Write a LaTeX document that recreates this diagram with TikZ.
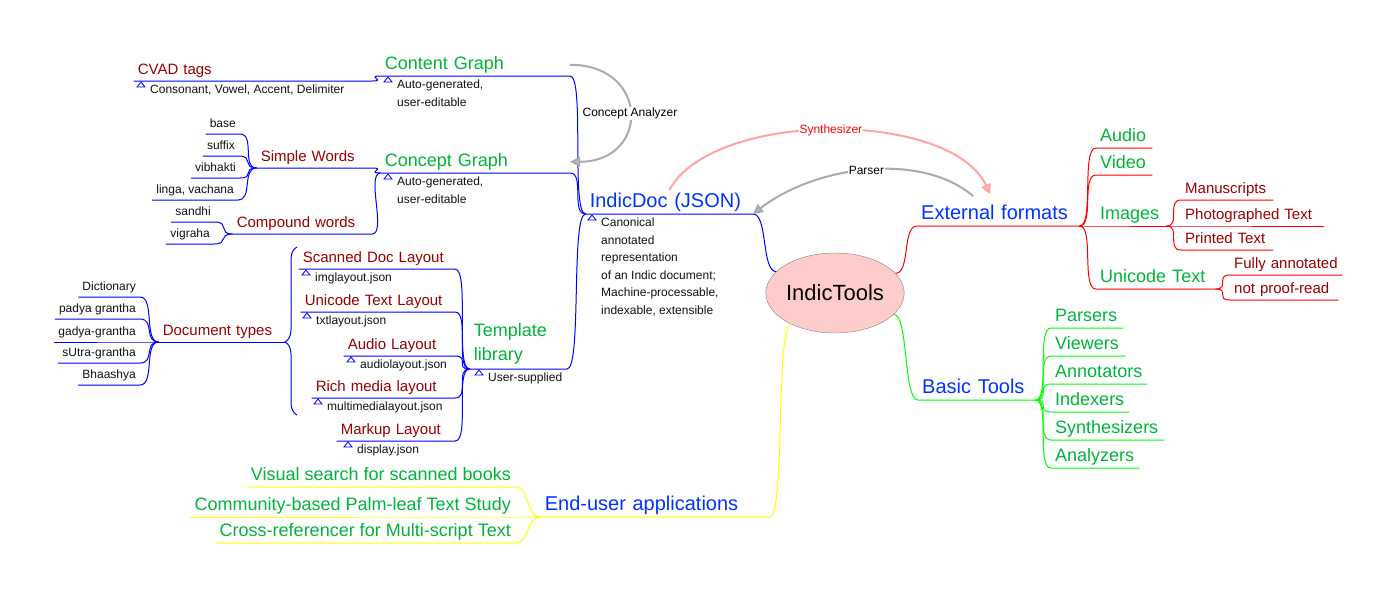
\documentclass[tikz,border=0pt]{standalone}
\usepackage{fontspec}
\setmainfont{Liberation Sans}
\usepackage{tikz}
\usetikzlibrary{arrows.meta,calc,shapes.geometric,decorations.pathreplacing}
\definecolor{mapblue}{HTML}{0033FF}
\definecolor{mapgreen}{HTML}{00B439}
\definecolor{mapred}{HTML}{990000}
\definecolor{mapdark}{HTML}{111111}
\definecolor{linkblue}{HTML}{0000FF}
\definecolor{linkred}{HTML}{FF0000}
\definecolor{linkgreen}{HTML}{00FF00}
\definecolor{linkyellow}{HTML}{FFFF00}
\definecolor{rootfill}{HTML}{FFCCCC}
\definecolor{arcgray}{HTML}{ABABAB}
\definecolor{arcpink}{HTML}{FFA3A3}
\tikzset{
    mindnode/.style={inner xsep=4pt, inner ysep=3pt, text depth=0.3em},
    mindroot/.style={ellipse, draw=gray, fill=rootfill, minimum width=130pt, minimum height=80pt, inner sep=0pt, font=\fontsize{22}{26}\selectfont},
    mindone/.style={mindnode, text=mapblue, font=\fontsize{20}{24}\selectfont},
    mindtwo/.style={mindnode, text=mapgreen, font=\fontsize{18}{24}\selectfont},
    mindthree/.style={mindnode, text=mapred, font=\fontsize{15}{18}\selectfont},
    mindleaf/.style={mindnode, text=mapdark, font=\fontsize{12}{14}\selectfont},
    mindnote/.style={inner sep=0pt, anchor=north west, align=left, text=mapdark, font=\fontsize{12}{17.5}\selectfont},
    toright/.style={anchor=south west, text width=#1, align=left},
    toleft/.style={anchor=south east, text width=#1, align=left},
    leftleaf/.style={anchor=south east},
    mindlink/.style={line width=1pt},
    goleft/.style={to path={.. controls +(-15,0) and +(15,0) .. (\tikztotarget)}},
    goright/.style={to path={.. controls +(15,0) and +(-15,0) .. (\tikztotarget)}},
    notemark/.style={draw=linkblue, line width=0.8pt},
    mindarc/.style={line width=2pt, draw=arcgray, -{Triangle[length=10pt, width=10pt, fill=gray!55]}},
    synarc/.style={line width=2pt, draw=arcpink, -{Triangle[length=10pt, width=10pt, fill=arcpink!60]}},
    arclabel/.style={fill=white, inner sep=1pt, font=\fontsize{12}{14}\selectfont}
}

\begin{document}
\begin{tikzpicture}[x=1pt, y=-1pt]
    \useasboundingbox (0,0) rectangle (1396,594);
    \node[mindroot] (root) at (835,293) {IndicTools};

    \node[mindone, toright=154] (external) at (917,226) {External formats};
    \node[mindtwo, toright=48] (audio) at (1096,148) {Audio};
    \node[mindtwo, toright=48] (video) at (1096,175) {Video};
    \node[mindtwo, toright=62] (images) at (1096,226) {Images};
    \node[mindthree, toright=84] (manuscripts) at (1181,200) {Manuscripts};
    \node[mindthree, toright=135] (photographed) at (1181,226) {Photographed Text};
    \node[mindthree, toright=84] (printed) at (1181,250) {Printed Text};
    \node[mindtwo, toright=111] (unicode) at (1096,289) {Unicode Text};
    \node[mindthree, toright=104] (annotated) at (1230,275) {Fully annotated};
    \node[mindthree, toright=100] (proofread) at (1230,300) {not proof-read};

    \node[mindone, toright=109] (basic) at (918,400) {Basic Tools};
    \node[mindtwo, toright=64] (parsers) at (1051,328) {Parsers};
    \node[mindtwo, toright=66] (viewers) at (1051,356) {Viewers};
    \node[mindtwo, toright=88] (annotators) at (1051,384) {Annotators};
    \node[mindtwo, toright=70] (indexers) at (1051,412) {Indexers};
    \node[mindtwo, toright=105] (synthesizers) at (1051,440) {Synthesizers};
    \node[mindtwo, toright=80] (analyzers) at (1051,468) {Analyzers};

    \node[mindone, toleft=159] (indicdoc) at (753,214) {IndicDoc (JSON)};
    \node[mindnote] (docnote) at (601,218) {Canonical\\annotated\\representation\\of an Indic document;\\Machine-processable,\\indexable, extensible};

    \node[mindtwo, toleft=181] (content) at (570,76) {Content Graph};
    \node[mindnote] (contentnote) at (397,80) {Auto-generated,\\user-editable};
    \node[mindthree, toleft=230] (cvad) at (372,81) {CVAD tags};
    \node[mindnote] (cvadnote) at (150,85) {Consonant, Vowel, Accent, Delimiter};

    \node[mindtwo, toleft=181] (concept) at (570,173) {Concept Graph};
    \node[mindnote] (conceptnote) at (397,177) {Auto-generated,\\user-editable};
    \node[mindthree, toleft=107] (simple) at (372,168) {Simple Words};
    \node[mindleaf, leftleaf] (base) at (240,134) {base};
    \node[mindleaf, leftleaf] (suffix) at (239,156) {suffix};
    \node[mindleaf, leftleaf] (vibhakti) at (240,178) {vibhakti};
    \node[mindleaf, leftleaf] (linga) at (238,200) {linga, vachana};
    \node[mindthree, toleft=131] (compound) at (372,234) {Compound words};
    \node[mindleaf, leftleaf] (sandhi) at (215,222) {sandhi};
    \node[mindleaf, leftleaf] (vigraha) at (214,244) {vigraha};

    \node[mindtwo, toleft=89, text depth=29pt] (template) at (567,369) {Template\\library};
    \node[mindnote] (templatenote) at (488,373) {User-supplied};
    \node[mindthree, toleft=148] (scanned) at (455,269) {Scanned Doc Layout};
    \node[mindnote] (scannednote) at (315,273) {imglayout.json};
    \node[mindthree, toleft=146] (textlayout) at (455,312) {Unicode Text Layout};
    \node[mindnote] (textnote) at (316,316) {txtlayout.json};
    \node[mindthree, toleft=103] (audiolayout) at (455,356) {Audio Layout};
    \node[mindnote] (audionote) at (360,360) {audiolayout.json};
    \node[mindthree, toleft=135] (richmedia) at (455,398) {Rich media layout};
    \node[mindnote] (richnote) at (327,402) {multimedialayout.json};
    \node[mindthree, toleft=110] (markup) at (455,441) {Markup Layout};
    \node[mindnote] (markupnote) at (357,445) {display.json};

    \node[mindthree, toleft=118] (doctypes) at (285,342) {Document types};
    \coordinate (bracelow) at (297,415);
    \coordinate (bracetop) at (297,247);
    \node[mindleaf, leftleaf] (dictionary) at (140,297) {Dictionary};
    \node[mindleaf, leftleaf] (padya) at (140,319) {padya grantha};
    \node[mindleaf, leftleaf] (gadya) at (140,342) {gadya-grantha};
    \node[mindleaf, leftleaf] (sutra) at (140,363) {sUtra-grantha};
    \node[mindleaf, leftleaf] (bhaashya) at (140,385) {Bhaashya};

    \node[mindone, toleft=221] (enduser) at (770,517) {End-user applications};
    \node[mindtwo, leftleaf] (visual) at (515,487) {Visual search for scanned books};
    \node[mindtwo, leftleaf] (community) at (515,517) {Community-based Palm-leaf Text Study};
    \node[mindtwo, leftleaf] (crossref) at (515,543) {Cross-referencer for Multi-script Text};

    \draw[mindlink, linkblue] (root.160) to[goleft] (indicdoc.south east) -- (indicdoc.south west);
    \foreach \child in {content, concept, template}
        \draw[mindlink, linkblue] (indicdoc.south west) to[goleft] (\child.south east) -- (\child.south west);
    \draw[mindlink, linkblue] (content.south west) to[goleft] (cvad.south east) -- (cvad.south west);
    \foreach \child in {simple, compound}
        \draw[mindlink, linkblue] (concept.south west) to[goleft] (\child.south east) -- (\child.south west);
    \foreach \child in {base, suffix, vibhakti, linga}
        \draw[mindlink, linkblue] (simple.south west) to[goleft] (\child.south east) -- (\child.south west);
    \foreach \child in {sandhi, vigraha}
        \draw[mindlink, linkblue] (compound.south west) to[goleft] (\child.south east) -- (\child.south west);
    \foreach \child in {scanned, textlayout, audiolayout, richmedia, markup}
        \draw[mindlink, linkblue] (template.south west) to[goleft] (\child.south east) -- (\child.south west);
    \draw[mindlink, linkblue, decorate, decoration={brace, amplitude=12pt, aspect=0.435}] (bracelow) -- (bracetop);
    \draw[mindlink, linkblue] (doctypes.south east) -- (doctypes.south west);
    \foreach \child in {dictionary, padya, gadya, sutra, bhaashya}
        \draw[mindlink, linkblue] (doctypes.south west) to[goleft] (\child.south east) -- (\child.south west);

    \draw[mindlink, linkred] (root.18) to[goright] (external.south west) -- (external.south east);
    \foreach \child in {audio, video, images, unicode}
        \draw[mindlink, linkred] (external.south east) to[goright] (\child.south west) -- (\child.south east);
    \foreach \child in {manuscripts, photographed, printed}
        \draw[mindlink, linkred] (images.south east) to[goright] (\child.south west) -- (\child.south east);
    \foreach \child in {annotated, proofread}
        \draw[mindlink, linkred] (unicode.south east) to[goright] (\child.south west) -- (\child.south east);

    \draw[mindlink, linkgreen] (root.-20) to[goright] (basic.south west) -- (basic.south east);
    \foreach \child in {parsers, viewers, annotators, indexers, synthesizers, analyzers}
        \draw[mindlink, linkgreen] (basic.south east) to[goright] (\child.south west) -- (\child.south east);

    \draw[mindlink, linkyellow] (root.215) to[goleft] (enduser.south east) -- (enduser.south west);
    \foreach \child in {visual, community, crossref}
        \draw[mindlink, linkyellow] (enduser.south west) to[goleft] (\child.south east) -- (\child.south west);

    \foreach \notename in {docnote, contentnote, cvadnote, conceptnote, templatenote, scannednote, textnote, audionote, richnote, markupnote}
        \draw[notemark] ($(\notename.north west)+(-9,-3)$) -- ++(4,5) -- ++(-8,0) -- cycle;

    \draw[mindarc] (content.east) .. controls +(80,0) and +(80,0) .. node[arclabel] {Concept Analyzer} (concept.east);
    \draw[synarc] (indicdoc.north) .. controls +(43,-80) and +(-40,-85) .. node[arclabel, text=red] {Synthesizer} ([xshift=-8pt, yshift=8pt]external.north);
    \draw[mindarc] ([xshift=-25pt, yshift=6pt]external.north) .. controls +(-53,-45) and +(62,-48) .. node[arclabel] {Parser} (indicdoc.south east);
\end{tikzpicture}
\end{document}
